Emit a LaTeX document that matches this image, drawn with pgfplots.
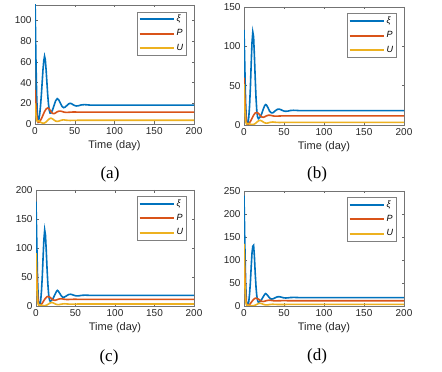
\documentclass[border=0pt]{standalone}
\usepackage{fontspec}
\setmainfont{Liberation Sans}
\newfontfamily\capfont{Liberation Serif}
\usepackage{pgfplots}
\pgfplotsset{compat=1.18}

\definecolor{mblue}{rgb}{0,0.447,0.741}
\definecolor{morange}{rgb}{0.85,0.325,0.098}
\definecolor{myellow}{rgb}{0.929,0.694,0.125}

\pgfplotsset{
  panel/.style={
    scale only axis,
    xmin=0, xmax=200, ymin=0,
    xtick={0,50,100,150,200},
    tick align=inside,
    tick pos=both,
    major tick length=2.5pt,
    every tick/.style={black!60, line width=0.4pt},
    axis line style={black!55, line width=0.5pt},
    tick label style={font=\fontsize{10}{10}\selectfont, text=black!85},
    /pgf/number format/assume math mode=true,
    xlabel={Time (day)},
    xlabel style={font=\fontsize{11}{11}\selectfont, text=black!85, yshift=1pt},
    legend style={at={(0.955,0.945)}, anchor=north east, draw=black!50,
      line width=0.4pt, font=\fontsize{9}{10}\selectfont, inner sep=1.5pt,
      row sep=2.5pt, legend cell align=left},
    legend image code/.code={\draw[#1, line width=2pt] (0pt,0pt) -- (34pt,0pt);},
    every axis plot/.append style={line width=1.6pt},
  },
}

\begin{document}
\begin{tikzpicture}
\fill[white] (0,0) rectangle (442pt,372pt);
\path[use as bounding box] (0,0) rectangle (442pt,372pt);

% (a)
\begin{axis}[panel, at={(35pt,248pt)}, anchor=south west,
  width=159pt, height=119pt, ymax=115, ytick={0,20,40,60,80,100}]
\addplot[mblue] coordinates {
(0,125)(1,70)(2,30)(3,8)(4,3)(5,5)(6,10)(7,18)(8,28)(9,40)(10,52)(11,61)(12,65.5)
(13,62)(14,52)(15,40)(16,28)(17,19)(18,13)(19,10.5)(20,10.5)(22,13.5)(24,18)
(26,22.5)(28,24.5)(30,23.2)(32,20)(34,17)(36,15.8)(38,16.3)(40,17.8)(42,19.3)
(44,20)(46,19.6)(48,18.6)(50,17.8)(52,17.4)(55,17.7)(58,18.4)(62,18.7)(66,18.5)
(70,18.2)(80,18.3)(100,18.3)(200,18.3)};
\addplot[morange] coordinates {
(0,33)(1,20)(2,9)(3,3)(4,1.5)(5,1.5)(6,2.5)(8,5)(10,8.5)(12,12)(14,14.5)(16,15.5)
(18,14.5)(20,12)(22,10.3)(24,10)(26,10.8)(28,11.8)(30,12.4)(32,12.5)(34,12.1)
(36,11.6)(38,11.3)(40,11.2)(44,11.4)(48,11.6)(55,11.5)(200,11.5)};
\addplot[myellow] coordinates {
(0,20)(1,10)(2,4)(3,2.5)(4,3)(5,3)(6,2.5)(8,1.2)(10,0.8)(12,1)(14,2)(16,3.5)
(18,5)(20,5.6)(22,5)(24,3.8)(26,2.8)(28,2.5)(30,2.8)(32,3.4)(34,3.8)(36,4)
(38,3.8)(40,3.6)(44,3.4)(48,3.5)(55,3.6)(200,3.6)};
\legend{\textit{ξ},\textit{P},\textit{U}}
\end{axis}

% (b)
\begin{axis}[panel, at={(244pt,247pt)}, anchor=south west,
  width=160pt, height=118pt, ymax=150, ytick={0,50,100,150}]
\addplot[mblue] coordinates {
(0,121)(1,75)(2,30)(3,5)(4,1)(5,3)(6,10)(7,25)(8,48)(9,78)(10,105)(11,118)
(12,112)(13,88)(14,60)(15,35)(16,18)(17,10)(18,8)(20,10)(22,14)(24,20)(26,25)
(27,26)(28,25.5)(30,22)(32,17.5)(34,15.5)(36,15.5)(38,17)(40,18.8)(42,20)
(44,20.2)(46,19.5)(48,18.5)(50,17.7)(52,17.4)(55,17.7)(58,18.4)(62,18.7)
(66,18.5)(70,18.2)(80,18.3)(200,18.3)};
\addplot[morange] coordinates {
(0,60)(1,35)(2,14)(3,4)(4,1)(5,0.8)(6,1.5)(8,4.5)(10,8.5)(12,12.5)(14,15.3)
(16,16)(18,14.8)(20,12.3)(22,10.3)(24,9.8)(26,10.5)(28,11.6)(30,12.3)(32,12.5)
(34,12.1)(36,11.6)(38,11.3)(40,11.2)(44,11.4)(48,11.6)(55,11.5)(200,11.5)};
\addplot[myellow] coordinates {
(0,52)(1,20)(2,5)(3,1.5)(4,1.5)(5,1.8)(6,1.6)(8,1)(10,0.6)(12,0.8)(14,1.8)
(16,3.5)(18,5.2)(20,6)(22,5.2)(24,3.8)(26,2.7)(28,2.3)(30,2.6)(32,3.2)(34,3.6)
(36,3.8)(38,3.6)(40,3.4)(44,3.2)(48,3.3)(55,3.4)(200,3.4)};
\legend{\textit{ξ},\textit{P},\textit{U}}
\end{axis}

% (c)
\begin{axis}[panel, at={(36pt,66pt)}, anchor=south west,
  width=158pt, height=116pt, ymax=200, ytick={0,50,100,150,200}]
\addplot[mblue] coordinates {
(0,180)(1,110)(2,45)(3,8)(4,1)(5,3)(6,10)(7,27)(8,52)(9,85)(10,115)(11,131)
(12,122)(13,95)(14,64)(15,38)(16,20)(17,11)(18,8)(20,10)(22,14)(24,20)(26,25.5)
(27,27)(28,26)(30,22)(32,17.5)(34,15)(36,15.5)(38,17)(40,18.8)(42,20)
(44,20.2)(46,19.5)(48,18.5)(50,17.7)(52,17.4)(55,17.7)(58,18.4)(62,18.7)
(66,18.5)(70,18.2)(80,18.3)(200,18.3)};
\addplot[morange] coordinates {
(0,90)(1,50)(2,18)(3,5)(4,1.2)(5,0.8)(6,1.5)(8,5)(10,9.5)(12,13.5)(14,16)
(15,16.3)(18,14.8)(20,12.3)(22,10.3)(24,9.8)(26,10.5)(28,11.6)(30,12.3)
(32,12.5)(34,12.1)(36,11.6)(38,11.3)(40,11.2)(44,11.4)(48,11.6)(55,11.5)(200,11.5)};
\addplot[myellow] coordinates {
(0,91)(1,35)(2,8)(3,2)(4,1.5)(5,1.8)(6,1.6)(8,1)(10,0.6)(12,0.8)(14,1.8)
(16,3.5)(18,5.2)(20,6)(22,5.2)(24,3.8)(26,2.7)(28,2.3)(30,2.6)(32,3.2)(34,3.6)
(36,3.8)(38,3.6)(40,3.4)(44,3.2)(48,3.3)(55,3.4)(200,3.4)};
\legend{\textit{ξ},\textit{P},\textit{U}}
\end{axis}

% (d)
\begin{axis}[panel, at={(244pt,66pt)}, anchor=south west,
  width=160pt, height=115pt, ymax=250, ytick={0,50,100,150,200,250}]
\addplot[mblue] coordinates {
(0,240)(1,140)(2,55)(3,10)(4,1)(5,3)(6,10)(7,27)(8,52)(9,85)(10,115)(11,130)
(12,132)(13,108)(14,72)(15,42)(16,22)(17,12)(18,8)(20,10)(22,14)(24,20)(26,25.5)
(27,27)(28,26)(30,22)(32,17.5)(34,15)(36,15.5)(38,17)(40,18.8)(42,20)
(44,20.2)(46,19.5)(48,18.5)(50,17.7)(52,17.4)(55,17.7)(58,18.4)(62,18.7)
(66,18.5)(70,18.2)(80,18.3)(200,18.3)};
\addplot[morange] coordinates {
(0,135)(1,75)(2,25)(3,6)(4,1.5)(5,0.8)(6,1.5)(8,5.5)(10,10)(12,14.5)(14,16.8)
(15,17)(18,15)(20,12.3)(22,10.3)(24,9.8)(26,10.5)(28,11.6)(30,12.3)
(32,12.5)(34,12.1)(36,11.6)(38,11.3)(40,11.2)(44,11.4)(48,11.6)(55,11.5)(200,11.5)};
\addplot[myellow] coordinates {
(0,135)(1,50)(2,12)(3,2.5)(4,1.5)(5,1.8)(6,1.6)(8,1)(10,0.6)(12,0.8)(14,1.8)
(16,3.5)(18,5.2)(20,6)(22,5.2)(24,3.8)(26,2.7)(28,2.3)(30,2.6)(32,3.2)(34,3.6)
(36,3.8)(38,3.6)(40,3.4)(44,3.2)(48,3.3)(55,3.4)(200,3.4)};
\legend{\textit{ξ},\textit{P},\textit{U}}
\end{axis}

\node[font=\capfont\fontsize{17}{17}\selectfont] at (110pt,198pt) {(a)};
\node[font=\capfont\fontsize{17}{17}\selectfont] at (317pt,198pt) {(b)};
\node[font=\capfont\fontsize{17}{17}\selectfont] at (109pt,15pt) {(c)};
\node[font=\capfont\fontsize{17}{17}\selectfont] at (317pt,16pt) {(d)};
\end{tikzpicture}
\end{document}
